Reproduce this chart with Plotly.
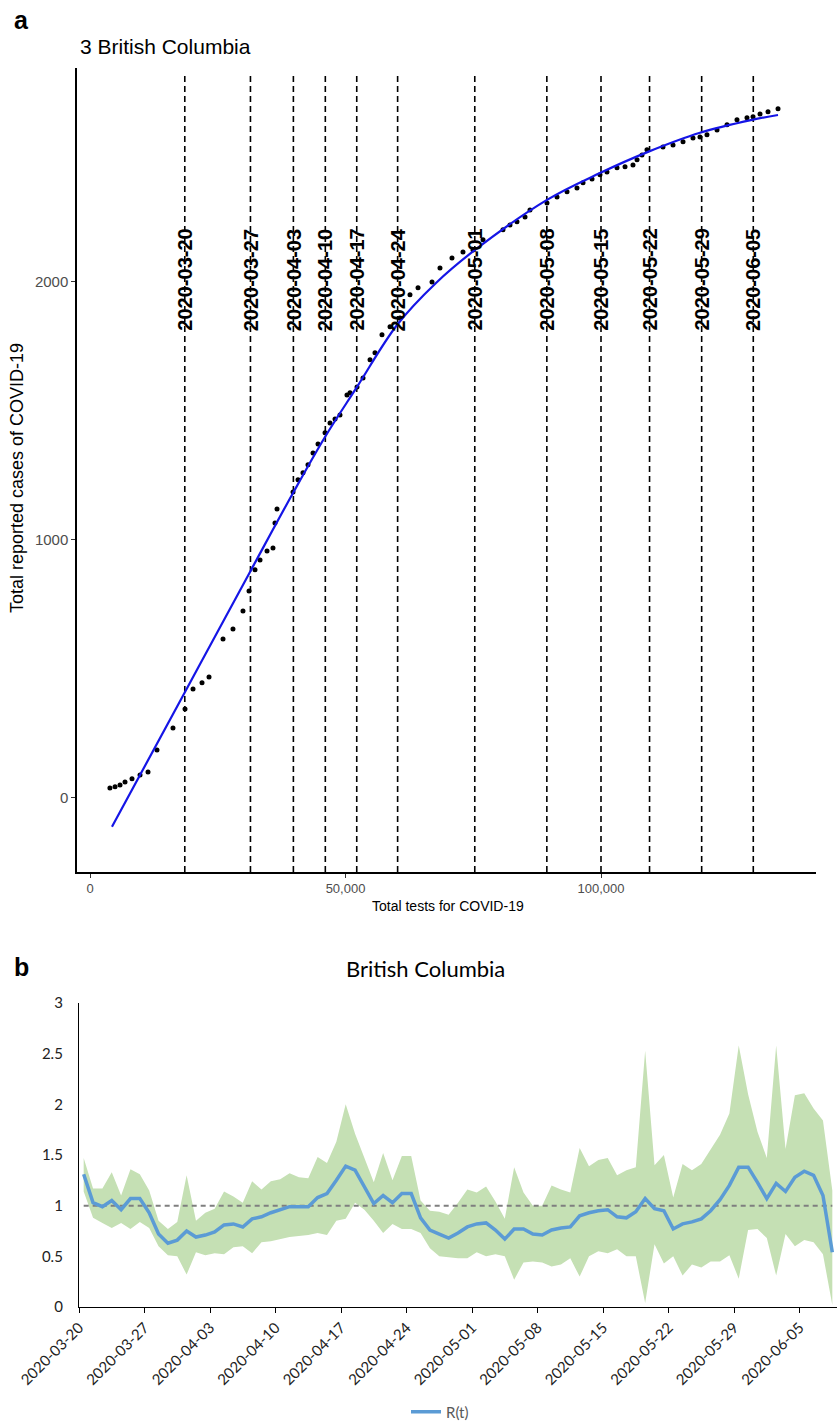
import plotly.graph_objects as go
import pandas as pd

# ---------------- Panel a data ----------------
tests = [3900, 4900, 5870, 6850, 8220, 9790, 11350, 13110, 16240, 18590,
         20160, 21920, 23290, 26030, 27980, 29940, 31120, 32290, 33270, 34640,
         35810, 36200, 36600, 39730, 40710, 41680, 42660, 43640, 44620, 45990,
         46970, 47950, 48920, 50290, 50880, 52250, 53430, 54800, 55770, 57140,
         58710, 60670, 62620, 64190, 66930, 68490, 70840, 72990, 74950, 76910,
         80820, 82190, 83560, 85130, 86100, 89430, 91390, 93350, 95300, 96480,
         98240, 99800, 101170, 103130, 104700, 106260, 107050, 108020, 109000, 112130,
         114090, 116050, 118000, 119370, 120740, 122700, 124660, 126610, 128570, 129750,
         131120, 132680, 134640]
cases = [39, 43, 50, 62, 74, 89, 101, 186, 271, 345,
         422, 446, 469, 616, 655, 725, 802, 884, 922, 957,
         969, 1066, 1120, 1186, 1233, 1260, 1291, 1337, 1372, 1415,
         1453, 1469, 1484, 1562, 1570, 1593, 1628, 1698, 1725, 1795,
         1826, 1860, 1950, 1977, 2000, 2054, 2093, 2116, 2124, 2163,
         2202, 2221, 2233, 2252, 2279, 2306, 2329, 2349, 2364, 2384,
         2399, 2415, 2426, 2442, 2446, 2453, 2473, 2492, 2512, 2523,
         2531, 2543, 2558, 2562, 2570, 2589, 2609, 2628, 2636, 2640,
         2651, 2659, 2671]

fit_tests = [4300, 18590, 31310, 39730, 45990, 52250, 60080, 67710, 75340,
             89430, 99800, 109200, 119370, 129550, 134640]
fit_cases = [-112, 411, 876, 1182, 1399, 1593, 1833, 1996, 2124,
             2318, 2422, 2504, 2578, 2628, 2647]

week_labels = ["2020-03-20", "2020-03-27", "2020-04-03", "2020-04-10", "2020-04-17",
               "2020-04-24", "2020-05-01", "2020-05-08", "2020-05-15", "2020-05-22",
               "2020-05-29", "2020-06-05"]
week_tests = [18550, 31400, 39800, 46050, 52200, 60200, 75300, 89400, 100000,
              109500, 119700, 129800]

xa_ticks = [0, 50000, 100000]
xa_ticktext = ["0", "50,000", "100,000"]
ya_ticks = [0, 1000, 2000]

# ---------------- Panel b data ----------------
dates = pd.date_range("2020-03-20", periods=81, freq="D")
rt = [1.31, 1.03, 0.99, 1.05, 0.96, 1.07, 1.07, 0.93, 0.72, 0.63,
      0.66, 0.75, 0.69, 0.71, 0.74, 0.81, 0.82, 0.79, 0.87, 0.89,
      0.93, 0.96, 0.99, 0.99, 0.99, 1.08, 1.12, 1.25, 1.39,
      1.35, 1.18, 1.02, 1.10, 1.03, 1.12, 1.12, 0.88, 0.76, 0.72,
      0.68, 0.73, 0.79, 0.82, 0.83, 0.76, 0.67, 0.77, 0.77, 0.72,
      0.71, 0.76, 0.78, 0.79, 0.90, 0.93, 0.95,
      0.96, 0.89, 0.88, 0.94, 1.07, 0.97, 0.95, 0.77, 0.82, 0.84,
      0.87, 0.95, 1.06, 1.20, 1.38, 1.38, 1.23, 1.07, 1.22, 1.14,
      1.28, 1.34, 1.30, 1.10, 0.54]
rt_high = [1.47, 1.17, 1.17, 1.33, 1.10, 1.36, 1.31, 1.15, 0.85, 0.77,
           0.84, 1.30, 0.85, 0.93, 0.97, 1.14, 1.09, 1.03, 1.24, 1.16,
           1.24, 1.26, 1.32, 1.28, 1.27, 1.48, 1.42, 1.63, 2.00,
           1.71, 1.47, 1.23, 1.52, 1.25, 1.49, 1.49, 1.05, 0.95, 0.94,
           0.91, 1.03, 1.16, 1.13, 1.19, 1.04, 0.87, 1.38, 1.13, 1.00,
           1.00, 1.20, 1.16, 1.13, 1.57, 1.39, 1.45,
           1.47, 1.30, 1.35, 1.38, 2.53, 1.40, 1.50, 1.08, 1.41, 1.35,
           1.41, 1.56, 1.70, 1.91, 2.58, 2.10, 1.73, 1.47, 2.58, 1.56,
           2.09, 2.11, 1.96, 1.84, 1.15]
rt_low = [1.14, 0.88, 0.83, 0.78, 0.83, 0.77, 0.84, 0.78, 0.60, 0.51,
          0.50, 0.32, 0.54, 0.51, 0.53, 0.52, 0.59, 0.60, 0.53, 0.64,
          0.65, 0.67, 0.69, 0.70, 0.71, 0.73, 0.71, 0.85, 0.87,
          1.03, 0.96, 0.85, 0.73, 0.82, 0.77, 0.77, 0.73, 0.58, 0.50,
          0.49, 0.48, 0.48, 0.54, 0.50, 0.52, 0.50, 0.27, 0.44, 0.45,
          0.44, 0.40, 0.42, 0.48, 0.30, 0.50, 0.55,
          0.53, 0.57, 0.50, 0.50, 0.04, 0.62, 0.43, 0.50, 0.31, 0.42,
          0.39, 0.45, 0.45, 0.51, 0.28, 0.76, 0.77, 0.68, 0.31, 0.72,
          0.60, 0.66, 0.64, 0.52, 0.02]
threshold = 1.0
yb_ticks = [0, 0.5, 1, 1.5, 2, 2.5, 3]
yb_ticktext = ["0", "0.5", "1", "1.5", "2", "2.5", "3"]

# ---------------- Figure ----------------
W, H = 838, 1423
SANS = "Liberation Sans"
CAL = "Lato"

fig = go.Figure()

# panel a
fig.add_trace(go.Scatter(x=tests, y=cases, mode="markers",
                         marker=dict(color="black", size=5),
                         xaxis="x", yaxis="y", showlegend=False, hoverinfo="x+y"))
fig.add_trace(go.Scatter(x=fit_tests, y=fit_cases, mode="lines", line_shape="spline",
                         line=dict(color="#1515e6", width=2.2),
                         xaxis="x", yaxis="y", showlegend=False))

# panel b
fig.add_trace(go.Scatter(x=dates, y=rt_low, mode="lines", line=dict(width=0, color="#c5e0b4"),
                         xaxis="x2", yaxis="y2", showlegend=False, hoverinfo="skip"))
fig.add_trace(go.Scatter(x=dates, y=rt_high, mode="lines", line=dict(width=0, color="#c5e0b4"),
                         fill="tonexty", fillcolor="#c5e0b4",
                         xaxis="x2", yaxis="y2", showlegend=False, hoverinfo="skip"))
fig.add_trace(go.Scatter(x=[dates[0], dates[-1]], y=[threshold, threshold], mode="lines",
                         line=dict(color="#7f7f7f", width=2, dash="5px,4px"),
                         xaxis="x2", yaxis="y2", showlegend=False, hoverinfo="skip"))
fig.add_trace(go.Scatter(x=dates, y=rt, mode="lines", name="R(t)",
                         line=dict(color="#5b9bd5", width=3.5),
                         xaxis="x2", yaxis="y2", showlegend=True))

# vertical dashed week lines + labels (panel a)
shapes = []
annotations = []
ya_bot, ya_top = 1 - 872 / H, 1 - 68 / H
for lab, t in zip(week_labels, week_tests):
    shapes.append(dict(type="line", xref="x", yref="paper", x0=t, x1=t,
                       y0=ya_bot, y1=1 - 75 / H,
                       line=dict(color="black", width=1.6, dash="6px,4px"), layer="below"))
    annotations.append(dict(x=t, y=2008, xref="x", yref="y", text=lab,
                            textangle=-90, showarrow=False,
                            font=dict(family=SANS, size=20, color="black", weight="bold"),
                            xanchor="center", yanchor="middle"))

annotations += [
    dict(x=12 / W, y=1 - 20 / H, xref="paper", yref="paper", text="a",
         showarrow=False, xanchor="left", yanchor="middle",
         font=dict(family=SANS, size=25, color="black", weight="bold")),
    dict(x=78 / W, y=1 - 46 / H, xref="paper", yref="paper", text="3 British Columbia",
         showarrow=False, xanchor="left", yanchor="middle",
         font=dict(family=SANS, size=21, color="black")),
    dict(x=17 / W, y=1 - 478 / H, xref="paper", yref="paper",
         text="Total reported cases of COVID-19", textangle=-90,
         showarrow=False, xanchor="center", yanchor="middle",
         font=dict(family=SANS, size=18, color="black")),
    dict(x=448 / W, y=1 - 906 / H, xref="paper", yref="paper",
         text="Total tests for COVID-19",
         showarrow=False, xanchor="center", yanchor="middle",
         font=dict(family=SANS, size=14, color="black")),
    dict(x=12 / W, y=1 - 967 / H, xref="paper", yref="paper", text="b",
         showarrow=False, xanchor="left", yanchor="middle",
         font=dict(family=SANS, size=25, color="black", weight="bold")),
    dict(x=425 / W, y=1 - 968 / H, xref="paper", yref="paper", text="British Columbia",
         showarrow=False, xanchor="center", yanchor="middle",
         font=dict(family=CAL, size=22, color="black")),
]

tick_pos = [pd.Timestamp(l) - pd.Timedelta(hours=12) for l in week_labels]

fig.update_layout(
    width=W, height=H,
    margin=dict(l=0, r=0, t=0, b=0, autoexpand=False),
    paper_bgcolor="white", plot_bgcolor="rgba(0,0,0,0)",
    shapes=shapes, annotations=annotations,
    xaxis=dict(domain=[77 / W, 816 / W], anchor="y", range=[-2544, 142074], automargin=False,
               showgrid=False, zeroline=False, showline=True, linecolor="black", linewidth=1.5,
               ticks="outside", ticklen=4, tickcolor="#333333",
               tickvals=xa_ticks, ticktext=xa_ticktext,
               tickfont=dict(family=SANS, size=13, color="#4d4d4d")),
    yaxis=dict(domain=[ya_bot, ya_top], anchor="x", range=[-287, 2829], automargin=False,
               showgrid=False, zeroline=False, showline=True, linecolor="black", linewidth=1.5,
               ticks="outside", ticklen=4, tickcolor="#333333",
               tickvals=ya_ticks, tickfont=dict(family=SANS, size=15, color="#4d4d4d")),
    xaxis2=dict(domain=[79 / W, 837 / W], anchor="y2", type="date", automargin=False,
                range=[dates[0] - pd.Timedelta(hours=12), dates[-1] + pd.Timedelta(hours=12)],
                showgrid=False, zeroline=False, showline=True, linecolor="black", linewidth=1.3,
                ticks="outside", ticklen=5, tickcolor="black",
                tickvals=tick_pos, ticktext=week_labels, tickangle=-45,
                tickfont=dict(family=CAL, size=15, color="#222222")),
    yaxis2=dict(domain=[1 - 1307 / H, 1 - 1003 / H], anchor="x2", range=[0, 3], automargin=False,
                showgrid=False, zeroline=False, showline=True, linecolor="black", linewidth=1.3,
                ticks="", tickvals=yb_ticks, ticktext=yb_ticktext, ticklabelstandoff=12,
                tickfont=dict(family=CAL, size=15, color="#222222")),
    legend=dict(orientation="h", x=440 / W, y=1 - 1412 / H, xanchor="center", yanchor="middle",
                font=dict(family=CAL, size=15, color="#595959"), bgcolor="rgba(0,0,0,0)"),
)

fig.write_html("out.html")
